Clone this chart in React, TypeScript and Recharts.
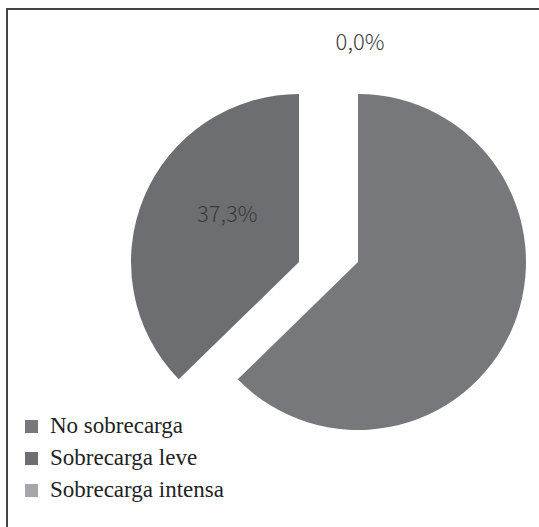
import React from 'react'
import { PieChart, Pie, Cell } from 'recharts'

// workload categories and shares (%)
const categories = ['No sobrecarga', 'Sobrecarga leve', 'Sobrecarga intensa']
const shares = [62.7, 37.3, 0.0]
const colors = ['#77787c', '#6d6e72', '#a5a6a9']

const data = categories.map((name, i) => ({ name, value: shares[i] }))

const RAD = Math.PI / 180
const fmt = (v: number) => v.toFixed(1).replace('.', ',') + '%'

const labelStyle = {
  fontFamily: '"Noto Sans CJK KR", "Noto Sans", sans-serif',
  fontSize: 22,
  fontWeight: 300,
}

// right piece: big slice, plus the 0% label at the top
const rightLabel = (p: any) => {
  if (p.index !== 2) return null
  const r = p.outerRadius + 54
  const x = p.cx + r * Math.cos(-p.midAngle * RAD)
  const y = p.cy + r * Math.sin(-p.midAngle * RAD)
  return (
    <text x={x + 2} y={y} textAnchor="middle" dominantBaseline="central" fill="#3a3a3a" style={labelStyle}>
      {fmt(p.value)}
    </text>
  )
}

// left piece: exploded 37,3% slice
const leftLabel = (p: any) => {
  if (p.index !== 1) return null
  const r = p.outerRadius * 0.52
  const a = p.midAngle - 12
  const x = p.cx + r * Math.cos(-a * RAD)
  const y = p.cy + r * Math.sin(-a * RAD)
  return (
    <text x={x} y={y} textAnchor="middle" dominantBaseline="central" fill="#3a3a3a" style={labelStyle}>
      {fmt(p.value)}
    </text>
  )
}

const App: React.FC = () => {
  return (
    <div style={{ position: 'absolute', left: 0, top: 0, width: 539, height: 527, background: '#fff', overflow: 'hidden' }}>
      <div
        style={{
          position: 'absolute',
          left: 6,
          top: 8,
          width: 540,
          height: 530,
          borderTop: '2px solid #444',
          borderLeft: '2px solid #444',
        }}
      />
      <div style={{ position: 'absolute', left: 0, top: 0 }}>
        <PieChart width={539} height={527} margin={{ top: 0, right: 0, bottom: 0, left: 0 }}>
          <Pie
            data={data}
            dataKey="value"
            nameKey="name"
            cx={358}
            cy={262}
            outerRadius={168}
            startAngle={90}
            endAngle={-270}
            stroke="none"
            label={rightLabel}
            labelLine={false}
            isAnimationActive={false}
          >
            {data.map((d, i) => (
              <Cell key={d.name} fill={i === 0 ? colors[0] : 'transparent'} />
            ))}
          </Pie>
          <Pie
            data={data}
            dataKey="value"
            nameKey="name"
            cx={299}
            cy={262}
            outerRadius={168}
            startAngle={90}
            endAngle={-270}
            stroke="none"
            label={leftLabel}
            labelLine={false}
            isAnimationActive={false}
          >
            {data.map((d, i) => (
              <Cell key={d.name} fill={i === 1 ? colors[1] : 'transparent'} />
            ))}
          </Pie>
        </PieChart>
      </div>
      <div style={{ position: 'absolute', left: 25, top: 410 }}>
        {categories.map((c, i) => (
          <div key={c} style={{ display: 'flex', alignItems: 'center', height: 32 }}>
            <div style={{ width: 13, height: 13, background: colors[i], marginRight: 12 }} />
            <span style={{ fontFamily: '"Liberation Serif", serif', fontSize: 23, color: '#222' }}>{c}</span>
          </div>
        ))}
      </div>
    </div>
  )
}

export default App
